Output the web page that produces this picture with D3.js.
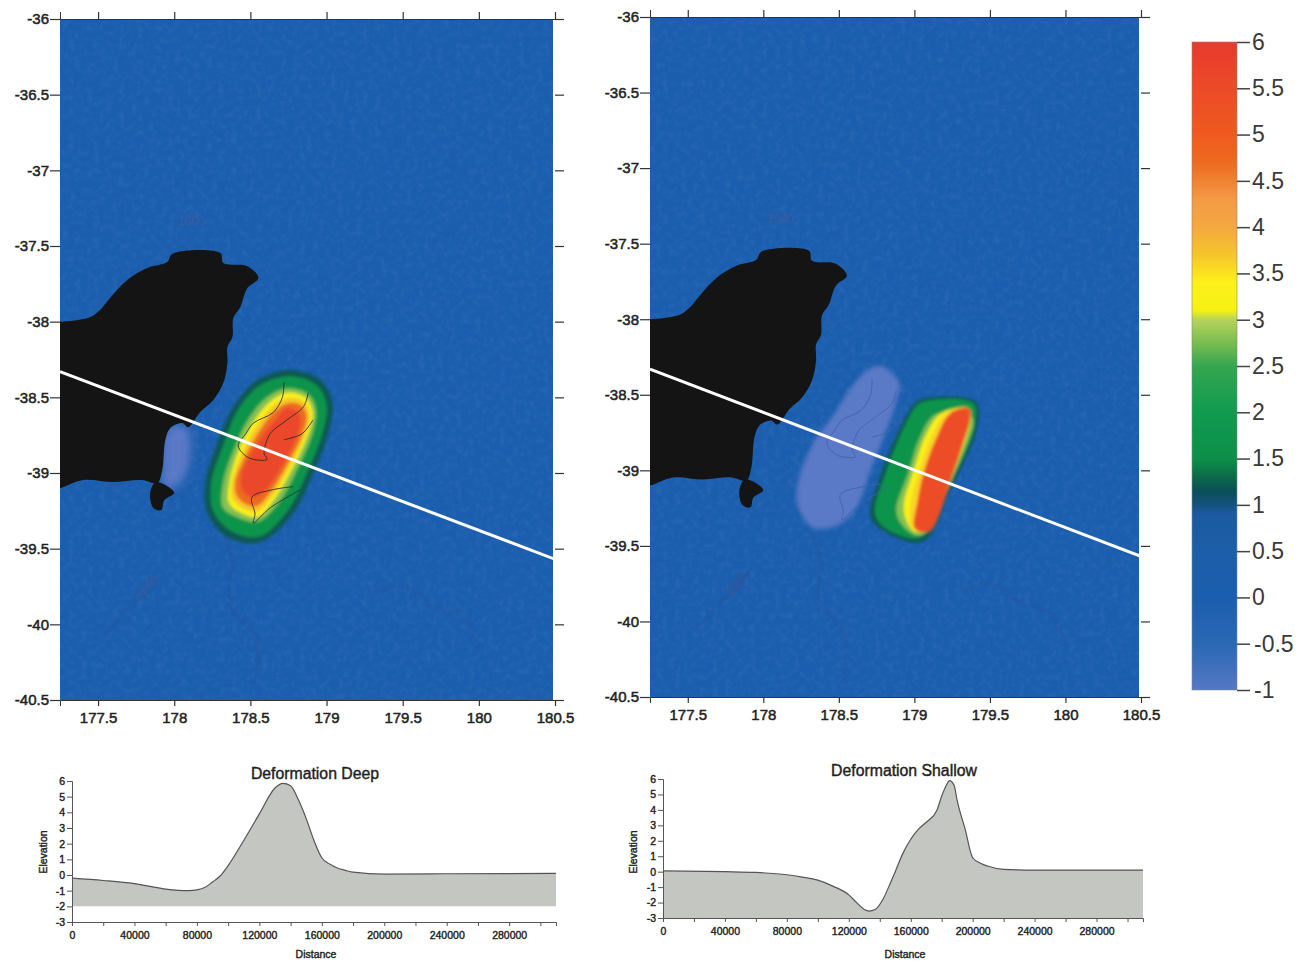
<!DOCTYPE html>
<html>
<head>
<meta charset="utf-8">
<script src="https://cdnjs.cloudflare.com/ajax/libs/d3/7.8.5/d3.min.js"></script>
<style>
  html, body { margin: 0; padding: 0; background: #fff; }
  svg { display: block; }
  text { font-family: "Liberation Sans", Arial, sans-serif; fill: #222; }
</style>
</head>
<body>
<div id="chart"></div>
<script>
// Map ticks
const lonTicks = [177.5, 178, 178.5, 179, 179.5, 180, 180.5];
const latTicks = [-36, -36.5, -37, -37.5, -38, -38.5, -39, -39.5, -40, -40.5];
const legendTicks = [6, 5.5, 5, 4.5, 4, 3.5, 3, 2.5, 2, 1.5, 1, 0.5, 0, -0.5, -1];

// Colour bar, value -> colour
const colourValues = [-1, -0.5, 0, 0.5, 0.9, 1, 1.15, 1.3, 1.5, 2, 2.5, 2.7, 3, 3.1, 3.4, 3.7, 4, 4.3, 4.7, 5, 5.5, 6];
const colourHex = ['#5578c4', '#2a68b4', '#1b5dae', '#1c5ea8', '#1b5aa0', '#14527f', '#0a4f58', '#0c6a48', '#0d8f4a', '#0f9b50',
  '#35a650', '#6db84f', '#b5d45a', '#f5f212', '#fef01a', '#f5c52a', '#f4a83f', '#f49a45', '#ee6a20', '#ef5a1e', '#ec4a28', '#e8392d'];

// Land (North Island, Hawke Bay side) and Mahia
const landLon = [177.2, 177.25, 177.447, 177.513, 177.579, 177.691, 177.822, 177.954, 177.987, 178.303, 178.322, 178.48, 178.553, 178.48,
  178.434, 178.388, 178.382, 178.349, 178.349, 178.322, 178.257, 178.171, 178.092, 178.053, 177.974, 177.941, 177.921, 177.888,
  177.789, 177.599, 177.401, 177.25, 177.2];
const landLat = [-38.0, -38.0, -37.97, -37.923, -37.844, -37.725, -37.646, -37.606, -37.553, -37.547, -37.613, -37.633, -37.712, -37.778,
  -37.903, -37.976, -38.102, -38.168, -38.274, -38.406, -38.518, -38.597, -38.697, -38.67, -38.703, -38.783, -38.981, -39.067,
  -39.047, -39.06, -39.047, -39.1, -39.1];
const islandLon = [177.88, 178.0, 177.934, 177.915, 177.862, 177.842];
const islandLat = [-39.06, -39.13, -39.18, -39.245, -39.23, -39.13];

// Profile line across both maps
const profileLon = [177.25, 180.5];
const profileLat = [-38.33, -39.57];

// Thin coast outlines showing through the deformation
const coastALon = [178.72, 178.71, 178.65, 178.52, 178.47, 178.42, 178.49, 178.61, 178.59, 178.63, 178.74, 178.85, 178.88];
const coastALat = [-38.40, -38.50, -38.60, -38.67, -38.74, -38.82, -38.90, -38.91, -38.87, -38.74, -38.65, -38.56, -38.47];
const coastBLon = [178.78, 178.65, 178.51, 178.53, 178.52, 178.63, 178.83];
const coastBLat = [-39.09, -39.11, -39.16, -39.27, -39.33, -39.23, -39.11];
const coastCLon = [178.91, 178.84, 178.72];
const coastCLat = [-38.65, -38.74, -38.78];

// Faint bathymetry
const bathyALon = [178.33, 178.38, 178.36, 178.42, 178.52, 178.55, 178.52];
const bathyALat = [-39.42, -39.6, -39.8, -39.95, -40.05, -40.2, -40.4];
const bathyBLon = [177.55, 177.72, 177.84, 177.9];
const bathyBLat = [-40.05, -39.88, -39.78, -39.66];
const bathyCLon = [179.3, 179.5, 179.7, 179.9, 180.0];
const bathyCLat = [-39.8, -39.75, -39.88, -39.95, -40.15];

// Deep source: filled contour rings, low level to high
const deepLevels = [1.2, 1.7, 2.8, 3.3, 3.7, 4.7, 5.6];
const deepLons = [
  [178.763, 178.961, 179.039, 179.013, 178.914, 178.783, 178.566, 178.349, 178.217, 178.204, 178.283, 178.388, 178.546],
  [178.757, 178.934, 179.0, 178.974, 178.875, 178.75, 178.559, 178.368, 178.257, 178.243, 178.322, 178.421, 178.566],
  [178.74, 178.88, 178.93, 178.91, 178.81, 178.69, 178.55, 178.41, 178.32, 178.32, 178.39, 178.49, 178.61],
  [178.74, 178.86, 178.91, 178.88, 178.78, 178.66, 178.55, 178.43, 178.36, 178.36, 178.42, 178.51, 178.63],
  [178.74, 178.845, 178.89, 178.86, 178.76, 178.645, 178.545, 178.445, 178.385, 178.38, 178.445, 178.535, 178.64],
  [178.74, 178.83, 178.87, 178.84, 178.74, 178.63, 178.54, 178.46, 178.41, 178.40, 178.47, 178.56, 178.65],
  [178.74, 178.81, 178.83, 178.80, 178.71, 178.61, 178.53, 178.47, 178.44, 178.44, 178.50, 178.59, 178.67]
];
const deepLats = [
  [-38.32, -38.386, -38.538, -38.736, -39.0, -39.265, -39.457, -39.424, -39.265, -39.067, -38.802, -38.564, -38.386],
  [-38.36, -38.42, -38.55, -38.73, -38.99, -39.24, -39.42, -39.38, -39.25, -39.07, -38.82, -38.58, -38.42],
  [-38.44, -38.48, -38.58, -38.73, -38.97, -39.19, -39.32, -39.29, -39.23, -39.07, -38.85, -38.64, -38.50],
  [-38.47, -38.50, -38.60, -38.74, -38.96, -39.17, -39.29, -39.26, -39.20, -39.07, -38.86, -38.68, -38.53],
  [-38.505, -38.525, -38.61, -38.745, -38.955, -39.15, -39.255, -39.23, -39.175, -39.065, -38.87, -38.70, -38.565],
  [-38.54, -38.55, -38.62, -38.75, -38.95, -39.13, -39.22, -39.20, -39.15, -39.06, -38.88, -38.72, -38.60],
  [-38.57, -38.60, -38.65, -38.77, -38.95, -39.10, -39.16, -39.14, -39.09, -39.01, -38.88, -38.74, -38.64]
];

// Shallow source: same idea
const shallowLevels = [1.2, 1.7, 2.8, 3.3, 3.6, 5.4];
const shallowLons = [
  [179.08, 179.41, 179.41, 179.23, 179.10, 179.01, 178.81, 178.71, 178.78, 178.92, 179.01],
  [179.09, 179.39, 179.39, 179.21, 179.08, 179.01, 178.82, 178.74, 178.81, 178.94, 179.02],
  [179.14, 179.38, 179.39, 179.35, 179.21, 179.08, 179.01, 178.91, 178.88, 178.96, 179.03],
  [179.18, 179.36, 179.37, 179.29, 179.20, 179.06, 179.01, 178.95, 178.93, 178.99, 179.08],
  [179.21, 179.36, 179.37, 179.30, 179.22, 179.085, 179.03, 178.975, 178.975, 179.025, 179.11],
  [179.24, 179.36, 179.37, 179.31, 179.24, 179.11, 179.05, 179.00, 179.02, 179.06, 179.14]
];
const shallowLats = [
  [-38.52, -38.55, -38.74, -39.15, -39.44, -39.48, -39.41, -39.31, -39.02, -38.69, -38.55],
  [-38.54, -38.56, -38.74, -39.14, -39.41, -39.45, -39.39, -39.29, -39.02, -38.70, -38.57],
  [-38.63, -38.65, -38.70, -38.82, -39.15, -39.41, -39.43, -39.35, -39.26, -39.02, -38.80],
  [-38.62, -38.59, -38.67, -38.93, -39.13, -39.39, -39.41, -39.34, -39.23, -39.02, -38.76],
  [-38.62, -38.59, -38.66, -38.895, -39.095, -39.39, -39.41, -39.36, -39.22, -39.02, -38.78],
  [-38.62, -38.59, -38.65, -38.86, -39.06, -39.39, -39.41, -39.38, -39.21, -39.02, -38.80]
];

// Pale subsidence patches (around -0.7)
const paleDeepLon = [177.96, 178.08, 178.105, 178.03, 177.93, 177.92];
const paleDeepLat = [-38.70, -38.70, -38.88, -39.08, -39.09, -38.98];
const paleShallowLon = [178.78, 178.90, 178.88, 178.79, 178.71, 178.61, 178.50, 178.33, 178.23, 178.23, 178.33, 178.46, 178.59, 178.70];
const paleShallowLat = [-38.31, -38.42, -38.55, -38.80, -39.0, -39.26, -39.36, -39.38, -39.24, -39.08, -38.82, -38.64, -38.44, -38.33];

// Cross sections
const distTicks = [0, 40000, 80000, 120000, 160000, 200000, 240000, 280000];
const distMinor = [20000, 60000, 100000, 140000, 180000, 220000, 260000, 300000];
const elevTicks = [6, 5, 4, 3, 2, 1, 0, -1, -2, -3];

const deepDist = [0, 20000, 40000, 60000, 75000, 80000, 85000, 90000, 95000, 100000, 110000, 120000, 130000, 135000, 140000, 145000,
  150000, 155000, 160000, 165000, 170000, 175000, 180000, 200000, 240000, 310000];
const deepElev = [-0.2, -0.35, -0.55, -0.9, -1.0, -0.95, -0.8, -0.45, -0.05, 0.6, 2.2, 3.9, 5.55, 5.85, 5.7, 4.8,
  3.6, 2.2, 1.1, 0.7, 0.45, 0.3, 0.18, 0.05, 0.08, 0.1];

const shallowDist = [0, 40000, 60000, 80000, 90000, 100000, 110000, 120000, 125000, 130000, 133000, 137000, 142000, 147000, 150000,
  155000, 160000, 165000, 170000, 177000, 180000, 183000, 185000, 188000, 190000, 195000, 200000, 205000, 210000, 220000, 240000, 310000];
const shallowElev = [0.05, 0.0, -0.05, -0.2, -0.35, -0.55, -0.95, -1.5, -2.0, -2.45, -2.55, -2.45, -1.8, -0.7, 0.0,
  1.2, 2.1, 2.75, 3.2, 4.0, 4.9, 5.6, 5.9, 5.6, 4.6, 2.8, 0.9, 0.55, 0.35, 0.15, 0.1, 0.1];

const width = 1302, height = 963;
const svg = d3.select('#chart').append('svg').attr('width', width).attr('height', height);
const defs = svg.append('defs');

const colour = d3.scaleLinear().domain(colourValues).range(colourHex).clamp(true);

function addBlur(id, dev) {
  defs.append('filter').attr('id', id)
    .attr('x', '-30%').attr('y', '-30%').attr('width', '160%').attr('height', '160%')
    .append('feGaussianBlur').attr('stdDeviation', dev);
}
addBlur('soft', 1.5);
addBlur('paleShallow', 2.2);
addBlur('paleDeep', 4);
addBlur('faint', 0.8);

// scan grain over the blue
const grain = defs.append('filter').attr('id', 'grain').attr('x', 0).attr('y', 0).attr('width', '100%').attr('height', '100%');
grain.append('feTurbulence').attr('type', 'fractalNoise').attr('baseFrequency', 0.16).attr('numOctaves', 3).attr('seed', 4);
grain.append('feColorMatrix').attr('type', 'matrix')
  .attr('values', '0 0 0 0 0.05  0 0 0 0 0.22  0 0 0 0 0.5  1.6 0 0 0 -0.6');

const fmt = d => String(d);

function zipped(lons, lats) {
  return lons.map((d, i) => [d, lats[i]]);
}

function drawMap(opts) {
  const x = d3.scaleLinear().domain([177.25, 180.5]).range(opts.xRange);
  const y = d3.scaleLinear().domain([-36, -40.5]).range(opts.yRange);
  const pt = d => [x(d[0]), y(d[1])];
  const closed = d3.line().curve(d3.curveCatmullRomClosed.alpha(0.5));
  const open = d3.line().curve(d3.curveCatmullRom.alpha(0.5));
  const straight = d3.line();

  defs.append('clipPath').attr('id', opts.id + '-clip')
    .append('rect')
    .attr('x', opts.xRange[0]).attr('y', opts.yRange[0])
    .attr('width', opts.xRange[1] - opts.xRange[0] - 2)
    .attr('height', opts.yRange[1] - opts.yRange[0]);

  const g = svg.append('g').attr('clip-path', 'url(#' + opts.id + '-clip)');

  g.append('rect')
    .attr('x', opts.xRange[0]).attr('y', opts.yRange[0])
    .attr('width', opts.xRange[1] - opts.xRange[0])
    .attr('height', opts.yRange[1] - opts.yRange[0])
    .attr('fill', colour(0));
  g.append('rect')
    .attr('x', opts.xRange[0]).attr('y', opts.yRange[0])
    .attr('width', opts.xRange[1] - opts.xRange[0])
    .attr('height', opts.yRange[1] - opts.yRange[0])
    .attr('filter', 'url(#grain)')
    .attr('opacity', 0.35);

  // faint bathymetry
  const bathy = g.append('g').attr('filter', 'url(#faint)').attr('fill', 'none')
    .attr('stroke', '#2f4e96').attr('stroke-width', 1.2).attr('opacity', 0.6);
  [[bathyALon, bathyALat], [bathyBLon, bathyBLat], [bathyCLon, bathyCLat]].forEach(b => {
    bathy.append('path').attr('d', open(zipped(b[0], b[1]).map(pt)));
  });
  g.append('text')
    .attr('x', x(178.11)).attr('y', y(-37.34))
    .attr('text-anchor', 'middle').attr('dominant-baseline', 'middle')
    .attr('font-size', 12).style('fill', '#3c5a9c').text('1000');
  g.append('text')
    .attr('transform', 'translate(' + x(177.82) + ',' + y(-39.76) + ') rotate(-50)')
    .attr('text-anchor', 'middle').attr('dominant-baseline', 'middle')
    .attr('font-size', 12).style('fill', '#3a5596').text('1000');

  // pale subsidence
  g.append('path')
    .attr('d', closed(zipped(opts.paleLon, opts.paleLat).map(pt)))
    .attr('fill', '#5a79c6')
    .attr('filter', 'url(#' + opts.paleBlur + ')');

  // deformation rings
  const blob = g.append('g').attr('filter', 'url(#soft)');
  opts.levels.forEach((lev, i) => {
    blob.append('path')
      .attr('d', closed(zipped(opts.lons[i], opts.lats[i]).map(pt)))
      .attr('fill', colour(lev));
  });

  // coast through the blob
  const coast = g.append('g').attr('fill', 'none').attr('stroke', opts.coastColour)
    .attr('stroke-width', opts.coastWidth).attr('opacity', 0.85);
  [[coastALon, coastALat], [coastBLon, coastBLat], [coastCLon, coastCLat]].forEach(c => {
    coast.append('path').attr('d', open(zipped(c[0], c[1]).map(pt)));
  });

  // land
  g.append('path').attr('d', closed(zipped(landLon, landLat).map(pt))).attr('fill', '#141414');
  g.append('path').attr('d', closed(zipped(islandLon, islandLat).map(pt))).attr('fill', '#141414');

  // profile line
  g.append('path')
    .attr('d', straight(zipped(profileLon, profileLat).map(pt)))
    .attr('stroke', '#fff').attr('stroke-width', 3).attr('fill', 'none');

  // axes
  const bottom = svg.append('g').attr('transform', 'translate(0,' + opts.yRange[1] + ')')
    .call(d3.axisBottom(x).tickValues(lonTicks).tickFormat(fmt).tickSize(6).tickPadding(6));
  const top = svg.append('g').attr('transform', 'translate(0,' + opts.yRange[0] + ')')
    .call(d3.axisTop(x).tickValues(lonTicks).tickFormat('').tickSize(7));
  const left = svg.append('g').attr('transform', 'translate(' + opts.xRange[0] + ',0)')
    .call(d3.axisLeft(y).tickValues(latTicks).tickFormat(fmt).tickSize(10).tickPadding(1));
  const right = svg.append('g').attr('transform', 'translate(' + opts.xRange[1] + ',0)')
    .call(d3.axisRight(y).tickValues(latTicks).tickFormat('').tickSize(9));

  [bottom, top, left, right].forEach(a => {
    a.selectAll('.domain').attr('stroke', '#333').attr('stroke-width', 1);
    a.selectAll('.tick line').attr('stroke', '#333').attr('stroke-width', 1.2);
    a.selectAll('text').attr('font-size', 15).attr('font-family', null)
      .attr('stroke', '#222').attr('stroke-width', 0.5);
  });
  left.selectAll('.domain').attr('stroke', 'none');
  right.selectAll('.domain').attr('stroke', 'none');
}

drawMap({
  id: 'deep', xRange: [60, 555], yRange: [19, 700],
  levels: deepLevels, lons: deepLons, lats: deepLats,
  paleLon: paleDeepLon, paleLat: paleDeepLat, paleBlur: 'paleDeep',
  coastColour: '#2a2a2a', coastWidth: 1
});
drawMap({
  id: 'shallow', xRange: [650, 1141], yRange: [17, 697],
  levels: shallowLevels, lons: shallowLons, lats: shallowLats,
  paleLon: paleShallowLon, paleLat: paleShallowLat, paleBlur: 'paleShallow',
  coastColour: '#4261a8', coastWidth: 1
});

// colour bar
const legendY = d3.scaleLinear().domain([6, -1]).range([42, 690]);
const grad = defs.append('linearGradient').attr('id', 'bar').attr('x1', 0).attr('x2', 0).attr('y1', 1).attr('y2', 0);
colourValues.forEach((v, i) => {
  grad.append('stop').attr('offset', (v + 1) / 7).attr('stop-color', colourHex[i]);
});
svg.append('rect')
  .attr('x', 1192).attr('y', 42).attr('width', 45).attr('height', 648)
  .attr('fill', 'url(#bar)').attr('stroke', '#888').attr('stroke-width', 0.6);
const legendAxis = svg.append('g').attr('transform', 'translate(1237,0)')
  .call(d3.axisRight(legendY).tickValues(legendTicks).tickFormat(fmt).tickSize(13).tickPadding(2));
legendAxis.select('.domain').attr('stroke', 'none');
legendAxis.selectAll('.tick line').attr('stroke', '#444').attr('stroke-width', 1.5);
legendAxis.selectAll('text').attr('font-size', 23).attr('font-family', null).style('fill', '#3a3a3a')
  .attr('dx', d => d < 0 ? 2 : 0);

// cross sections
function drawProfile(opts) {
  const x = d3.scaleLinear().domain([0, 310000]).range(opts.xRange);
  const y = d3.scaleLinear().domain([-3, 6]).range(opts.yRange);
  const rows = opts.dist.map((d, i) => ({ d: d, e: opts.elev[i] }));

  svg.append('path')
    .attr('d', d3.area().x(r => x(r.d)).y0(y(opts.base)).y1(r => y(r.e)).curve(d3.curveMonotoneX)(rows))
    .attr('fill', '#c4c6c2');
  svg.append('path')
    .attr('d', d3.line().x(r => x(r.d)).y(r => y(r.e)).curve(d3.curveMonotoneX)(rows))
    .attr('fill', 'none').attr('stroke', '#555').attr('stroke-width', 1.2);

  const xAxis = svg.append('g').attr('transform', 'translate(0,' + opts.yRange[0] + ')')
    .call(d3.axisBottom(x).tickValues(distTicks).tickFormat(fmt).tickSize(4).tickPadding(6));
  svg.append('g').attr('transform', 'translate(0,' + opts.yRange[0] + ')')
    .call(d3.axisBottom(x).tickValues(distMinor).tickFormat('').tickSize(4))
    .call(a => a.select('.domain').remove())
    .selectAll('.tick line').attr('stroke', '#555');
  const yAxis = svg.append('g').attr('transform', 'translate(' + opts.xRange[0] + ',0)')
    .call(d3.axisLeft(y).tickValues(elevTicks).tickFormat(fmt).tickSize(5).tickPadding(2));

  [xAxis, yAxis].forEach(a => {
    a.selectAll('.domain').attr('stroke', '#555');
    a.selectAll('.tick line').attr('stroke', '#555');
    a.selectAll('text').attr('font-size', 10.5).attr('font-family', null)
      .attr('stroke', '#222').attr('stroke-width', 0.4);
  });

  const mid = opts.titleX;
  svg.append('text').attr('x', mid).attr('y', opts.titleY).attr('text-anchor', 'middle')
    .attr('font-size', 15.8).attr('stroke', '#222').attr('stroke-width', 0.4).text(opts.title);
  svg.append('text').attr('x', mid + 1).attr('y', 958).attr('text-anchor', 'middle')
    .attr('font-size', 10.5).attr('stroke', '#222').attr('stroke-width', 0.4).text('Distance');
  svg.append('text')
    .attr('transform', 'translate(' + opts.labelX + ',852) rotate(-90)')
    .attr('text-anchor', 'middle')
    .attr('font-size', 10.5).attr('stroke', '#222').attr('stroke-width', 0.4).text('Elevation');
}

drawProfile({
  xRange: [72, 556], yRange: [922, 781], base: -2,
  dist: deepDist, elev: deepElev,
  title: 'Deformation Deep', titleX: 315, titleY: 779, labelX: 47
});
drawProfile({
  xRange: [663, 1143], yRange: [918, 779], base: -3,
  dist: shallowDist, elev: shallowElev,
  title: 'Deformation Shallow', titleX: 904, titleY: 776, labelX: 637
});
</script>
</body>
</html>
